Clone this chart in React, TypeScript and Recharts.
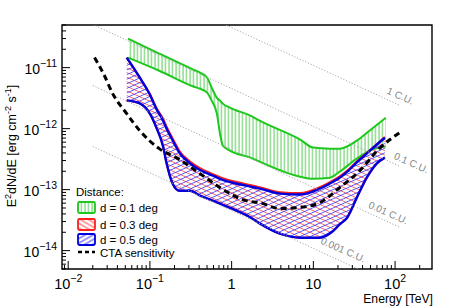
import React from "react";
import { ComposedChart, Area, Line, XAxis, YAxis, ReferenceArea, ReferenceDot } from "recharts";

const FONT = "'Liberation Sans', Arial, Helvetica, sans-serif";

// d = 0.1 deg band (energy in TeV, E^2 dN/dE in erg cm^-2 s^-1)
const greenE = [0.054, 0.13, 0.34, 0.41, 0.5, 0.57, 0.66, 0.72, 0.78, 0.95, 1.7, 2.2, 6.9, 9.9, 16, 21, 34, 49, 77];
const greenHi = [2.99e-11, 1.7e-11, 9.3e-12, 8.3e-12, 6.9e-12, 4.7e-12, 3.2e-12, 2.88e-12, 2.57e-12, 2.21e-12, 1.63e-12, 1.35e-12, 6.6e-13, 4.9e-13, 4.7e-13, 4.7e-13, 6.35e-13, 9.3e-13, 1.51e-12];
const greenLo = [1.46e-11, 8.9e-12, 4.9e-12, 4.5e-12, 3.9e-12, 2.88e-12, 1.76e-12, 8.3e-13, 5.3e-13, 4.35e-13, 3.35e-13, 2.88e-13, 1.63e-13, 1.51e-13, 1.57e-13, 1.97e-13, 3.22e-13, 4.35e-13, 5.07e-13];

// d = 0.3 / 0.5 deg bands share the energy grid
const bandE = [0.052, 0.075, 0.1, 0.12, 0.145, 0.16, 0.19, 0.23, 0.31, 0.41, 0.59, 0.72, 1.16, 1.7, 2.2, 3.9, 6.9, 12, 17.4, 21, 26, 34, 45, 60, 75];
const redHi = [1.46e-11, 6.9e-12, 3.7e-12, 2.2e-12, 1.45e-12, 1.08e-12, 6.9e-13, 4.3e-13, 2.9e-13, 2.25e-13, 1.8e-13, 1.6e-13, 1.33e-13, 1.19e-13, 1.1e-13, 9.1e-14, 8.8e-14, 1.1e-13, 1.42e-13, 1.65e-13, 2.05e-13, 2.9e-13, 4.0e-13, 5.6e-13, 7.3e-13];
const redLo = [2.9e-12, 2.6e-12, 1.76e-12, 1.04e-12, 5.1e-13, 2.7e-13, 1.25e-13, 9.6e-14, 9.6e-14, 8.0e-14, 6.6e-14, 5.9e-14, 4.5e-14, 3.5e-14, 2.8e-14, 1.9e-14, 1.63e-14, 1.63e-14, 2.1e-14, 2.7e-14, 3.5e-14, 7.4e-14, 1.57e-13, 2.7e-13, 3.35e-13];
const blueHi = [1.46e-11, 6.9e-12, 3.6e-12, 2.1e-12, 1.35e-12, 1.0e-12, 6.4e-13, 4.0e-13, 2.7e-13, 2.1e-13, 1.7e-13, 1.5e-13, 1.25e-13, 1.12e-13, 1.04e-13, 8.6e-14, 8.3e-14, 1.04e-13, 1.35e-13, 1.57e-13, 1.97e-13, 2.8e-13, 3.9e-13, 5.5e-13, 7.1e-13];
const blueLo = [2.9e-12, 2.6e-12, 1.76e-12, 1.04e-12, 5.1e-13, 2.7e-13, 1.25e-13, 9.6e-14, 9.6e-14, 8.0e-14, 6.6e-14, 5.9e-14, 4.5e-14, 3.5e-14, 2.8e-14, 1.9e-14, 1.63e-14, 1.63e-14, 2.1e-14, 2.7e-14, 3.5e-14, 7.4e-14, 1.57e-13, 2.7e-13, 3.35e-13];

// CTA sensitivity curve
const ctaE = [0.021, 0.027, 0.035, 0.052, 0.075, 0.13, 0.21, 0.41, 0.72, 1.5, 2.2, 3.9, 6.8, 12, 21, 37, 65, 120];
const ctaF = [1.46e-11, 8.0e-12, 3.75e-12, 1.76e-12, 9.3e-13, 4.7e-13, 3.35e-13, 1.83e-13, 1.08e-13, 6.6e-14, 6.1e-14, 4.9e-14, 5.1e-14, 6.1e-14, 1.08e-13, 2.05e-13, 4.8e-13, 9.0e-13];

// Crab-unit reference lines (end points)
const cuE = [0.02, 115];
const cu1 = [5.1e-10, 2.4e-12];
const cu01 = [5.1e-11, 2.4e-13];
const cu001 = [5.1e-12, 2.4e-14];
const cu0001 = [5.1e-13, 2.4e-15];
const cuNames = ["1 C.U.", "0.1 C.U.", "0.01 C.U.", "0.001 C.U."];

const xMajor = [0.01, 0.1, 1, 10, 100];
const xMajorBase = ["10", "10", "1", "10", "10"];
const xMajorExp = ["\u22122", "\u22121", "", "", "2"];
const yMajor = [1e-14, 1e-13, 1e-12, 1e-11];
const yMajorExp = ["\u221214", "\u221213", "\u221212", "\u221211"];

const X_DOMAIN = [0.0084, 283];
const Y_DOMAIN = [5e-15, 5e-11];

const logTicks = (lo: number, hi: number) => {
    const out: number[] = [];
    for (let d = -16; d <= 3; d++) {
        for (let m = 1; m < 10; m++) {
            const v = m * Math.pow(10, d);
            if (v >= lo && v <= hi) out.push(v);
        }
    }
    return out;
};
const xTicks = logTicks(X_DOMAIN[0], X_DOMAIN[1]);
const yTicks = logTicks(Y_DOMAIN[0], Y_DOMAIN[1]);

const findMajor = (list: number[], v: number) => list.findIndex((m) => Math.abs(Math.log10(v) - Math.log10(m)) < 1e-6);

const rows = (xs: number[], lo: number[], hi: number[]) => xs.map((e, i) => ({ e, band: [lo[i], hi[i]] }));
const pts = (xs: number[], ys: number[]) => xs.map((e, i) => ({ e, f: ys[i] }));

const greenRows = rows(greenE, greenLo, greenHi);
const redRows = rows(bandE, redLo, redHi);
const blueRows = rows(bandE, blueLo, blueHi);
const ctaRows = pts(ctaE, ctaF);
const cuRows = [cu1, cu01, cu001, cu0001].map((ys) => pts(cuE, ys));

function XTick(props: any) {
    const { x, y, payload } = props;
    const i = findMajor(xMajor, payload.value);
    const major = i >= 0;
    return (
        <g>
            <line x1={x} x2={x} y1={y} y2={y - (major ? 8 : 4)} stroke="#000" strokeWidth={1} />
            {major && (
                <text x={x} y={y + 20} textAnchor="middle" fontSize={14.5} fontFamily={FONT} fill="#000">
                    {xMajorBase[i]}
                    {xMajorExp[i] && (
                        <tspan dy={-7} fontSize={10.5}>{xMajorExp[i]}</tspan>
                    )}
                </text>
            )}
        </g>
    );
}

function YTick(props: any) {
    const { x, y, payload } = props;
    const i = findMajor(yMajor, payload.value);
    const major = i >= 0;
    return (
        <g>
            <line x1={x} x2={x + (major ? 8 : 4)} y1={y} y2={y} stroke="#000" strokeWidth={1} />
            {major && (
                <text x={x - 5} y={y + 6} textAnchor="end" fontSize={14} fontFamily={FONT} fill="#000">
                    10<tspan dy={-7} fontSize={10.5}>{yMajorExp[i]}</tspan>
                </text>
            )}
        </g>
    );
}

const cuLabel = (txt: string) => (p: any) => (
    <text
        x={p.cx}
        y={p.cy}
        transform={`rotate(24 ${p.cx} ${p.cy})`}
        textAnchor="middle"
        dominantBaseline="middle"
        fontSize={10}
        fontFamily={FONT}
        fill="#8a8a8a"
    >
        {txt}
    </text>
);

function LegendBox() {
    const rowsL = [
        { stroke: "#1ec81e", fill: "url(#lgG)", text: "d = 0.1 deg", y: 202 },
        { stroke: "#ff2020", fill: "url(#lgR)", text: "d = 0.3 deg", y: 219 },
        { stroke: "#0000dd", fill: "url(#lgB)", text: "d = 0.5 deg", y: 234 },
    ];
    return (
        <svg width={463} height={307} style={{ position: "absolute", left: 0, top: 0, pointerEvents: "none" }}>
            <defs>
                <pattern id="lgG" patternUnits="userSpaceOnUse" width={3.5} height={10}>
                    <line x1={1} y1={0} x2={1} y2={10} stroke="#55cc55" strokeWidth={1} />
                </pattern>
                <pattern id="lgR" patternUnits="userSpaceOnUse" width={10} height={4} patternTransform="rotate(30)">
                    <line x1={0} y1={2} x2={10} y2={2} stroke="#ff4040" strokeWidth={1} />
                </pattern>
                <pattern id="lgB" patternUnits="userSpaceOnUse" width={10} height={4} patternTransform="rotate(-30)">
                    <line x1={0} y1={2} x2={10} y2={2} stroke="#3030ff" strokeWidth={1} />
                </pattern>
            </defs>
            <g fontFamily={FONT} fontSize={11.5} fill="#000">
                <text x={76} y={196}>Distance:</text>
                {rowsL.map((r) => (
                    <g key={r.text}>
                        <rect x={78} y={r.y} width={17} height={11} fill={r.fill} stroke={r.stroke} strokeWidth={1.8} rx={1.5} />
                        <text x={100} y={r.y + 10}>{r.text}</text>
                    </g>
                ))}
                <line x1={78} x2={95} y1={252} y2={252} stroke="#000" strokeWidth={2.5} strokeDasharray="4 3" />
                <text x={100} y={257}>CTA sensitivity</text>
            </g>
        </svg>
    );
}

export default function App() {
    return (
        <div style={{ position: "absolute", left: 0, top: 0, width: 463, height: 307, background: "#fff" }}>
            <ComposedChart width={463} height={307} margin={{ top: 25, right: 31, bottom: 0, left: 0 }}>
                <defs>
                    <pattern id="hG" patternUnits="userSpaceOnUse" width={3.5} height={10}>
                        <line x1={1} y1={0} x2={1} y2={10} stroke="#55cc55" strokeWidth={1} />
                    </pattern>
                    <pattern id="hR" patternUnits="userSpaceOnUse" width={10} height={4.2} patternTransform="rotate(24)">
                        <line x1={0} y1={2.1} x2={10} y2={2.1} stroke="#ff4848" strokeWidth={0.8} />
                    </pattern>
                    <pattern id="hB" patternUnits="userSpaceOnUse" width={10} height={4.2} patternTransform="rotate(-24)">
                        <line x1={0} y1={2.1} x2={10} y2={2.1} stroke="#3838ff" strokeWidth={0.8} />
                    </pattern>
                </defs>
                <XAxis
                    dataKey="e"
                    type="number"
                    scale="log"
                    domain={X_DOMAIN}
                    allowDataOverflow
                    ticks={xTicks}
                    interval={0}
                    tick={<XTick />}
                    tickSize={0}
                    tickMargin={0}
                    tickLine={false}
                    axisLine={false}
                    height={38}
                    label={{
                        content: (p: any) => (
                            <text x={p.viewBox.x + p.viewBox.width + 1} y={p.viewBox.y + 34} textAnchor="end" fontSize={12.2} fontFamily={FONT} fill="#000">
                                Energy [TeV]
                            </text>
                        ),
                    }}
                />
                <YAxis
                    type="number"
                    scale="log"
                    domain={Y_DOMAIN}
                    allowDataOverflow
                    ticks={yTicks}
                    interval={0}
                    tick={<YTick />}
                    tickSize={0}
                    tickMargin={0}
                    tickLine={false}
                    axisLine={false}
                    width={62}
                    label={{
                        content: (p: any) => {
                            const cx = 16;
                            const cy = p.viewBox.y + 121;
                            return (
                                <text x={cx} y={cy} transform={`rotate(-90 ${cx} ${cy})`} textAnchor="middle" fontSize={12.5} fontFamily={FONT} fill="#000">
                                    E<tspan dy={-5} fontSize={9}>2</tspan>
                                    <tspan dy={5}>dN/dE [erg cm</tspan>
                                    <tspan dy={-5} fontSize={9}>-2</tspan>
                                    <tspan dy={5}> s</tspan>
                                    <tspan dy={-5} fontSize={9}>-1</tspan>
                                    <tspan dy={5}>]</tspan>
                                </text>
                            );
                        },
                    }}
                />

                {cuRows.map((d, i) => (
                    <Line
                        key={cuNames[i]}
                        data={d}
                        dataKey="f"
                        type="linear"
                        stroke="#a8a8a8"
                        strokeWidth={1}
                        strokeDasharray="1.2 1.8"
                        dot={false}
                        activeDot={false}
                        isAnimationActive={false}
                    />
                ))}

                <Area data={greenRows} dataKey="band" type="monotone" stroke="#1ec81e" strokeWidth={2} fill="url(#hG)" fillOpacity={1} dot={false} activeDot={false} isAnimationActive={false} />
                <Area data={redRows} dataKey="band" type="monotone" stroke="#ff2020" strokeWidth={2} fill="url(#hR)" fillOpacity={1} dot={false} activeDot={false} isAnimationActive={false} />
                <Area data={blueRows} dataKey="band" type="monotone" stroke="#0000dd" strokeWidth={2.4} fill="url(#hB)" fillOpacity={1} dot={false} activeDot={false} isAnimationActive={false} />

                <Line data={ctaRows} dataKey="f" type="monotone" stroke="#000" strokeWidth={3} strokeDasharray="6 4" dot={false} activeDot={false} isAnimationActive={false} />

                <ReferenceDot x={115} y={3.35e-12} r={0} shape={cuLabel(cuNames[0])} />
                <ReferenceDot x={157} y={2.67e-13} r={0} shape={cuLabel(cuNames[1])} />
                <ReferenceDot x={82} y={4.05e-14} r={0} shape={cuLabel(cuNames[2])} />
                <ReferenceDot x={23} y={1.0e-14} r={0} shape={cuLabel(cuNames[3])} />

                <ReferenceArea x1={X_DOMAIN[0]} x2={X_DOMAIN[1]} y1={Y_DOMAIN[0]} y2={Y_DOMAIN[1]} fill="none" stroke="#000" strokeWidth={1.4} fillOpacity={0} strokeOpacity={1} />
            </ComposedChart>
            <LegendBox />
        </div>
    );
}
